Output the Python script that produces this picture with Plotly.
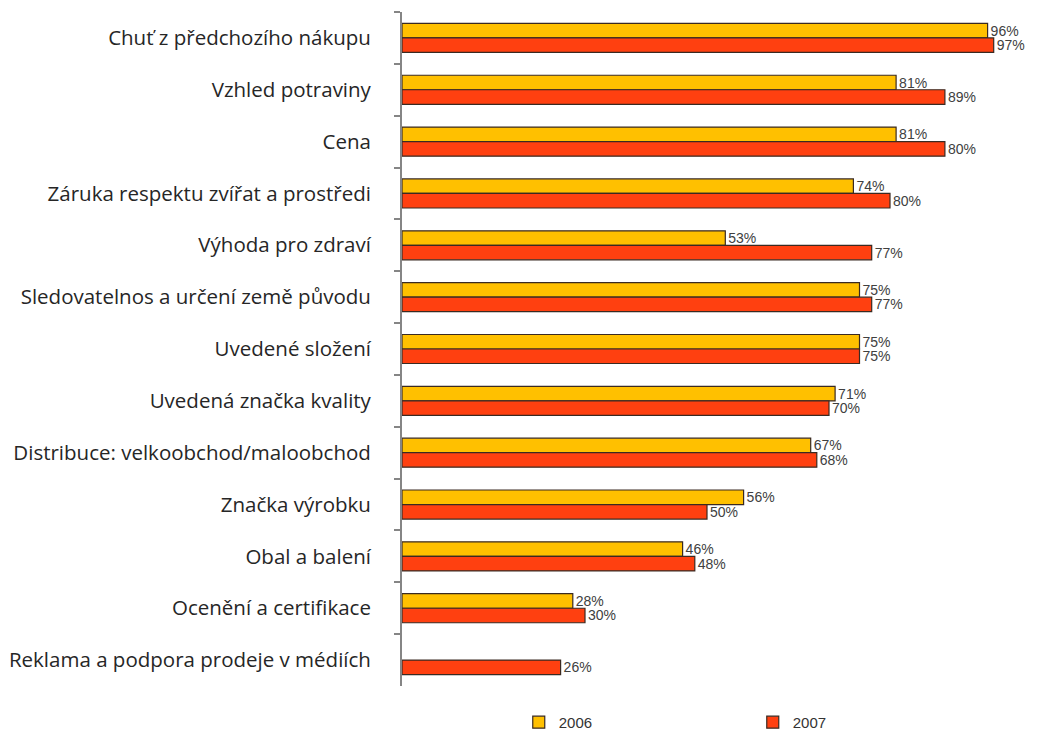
import plotly.graph_objects as go

categories = [
    "Chuť z předchozího nákupu",
    "Vzhled potraviny",
    "Cena",
    "Záruka respektu zvířat a prostředi",
    "Výhoda pro zdraví",
    "Sledovatelnos a určení země původu",
    "Uvedené složení",
    "Uvedená značka kvality",
    "Distribuce: velkoobchod/maloobchod",
    "Značka výrobku",
    "Obal a balení",
    "Ocenění a certifikace",
    "Reklama a podpora prodeje v médiích",
]
values_2006 = [96, 81, 81, 74, 53, 75, 75, 71, 67, 56, 46, 28, None]
values_2007 = [97, 89, 89, 80, 77, 77, 75, 70, 68, 50, 48, 30, 26]
labels_2006 = ["96%", "81%", "81%", "74%", "53%", "75%", "75%", "71%", "67%", "56%", "46%", "28%", ""]
labels_2007 = ["97%", "89%", "80%", "80%", "77%", "77%", "75%", "70%", "68%", "50%", "48%", "30%", "26%"]

line_style = dict(color="#3a2a22", width=1.2)
txt_font = dict(family="Liberation Sans, Arial, sans-serif", size=14, color="#404040")

fig = go.Figure()
fig.add_trace(go.Bar(
    name="2006", y=categories, x=values_2006, orientation="h",
    marker=dict(color="#FFC000", line=line_style),
    text=labels_2006, textposition="outside", textfont=txt_font,
    constraintext="none", cliponaxis=False,
))
fig.add_trace(go.Bar(
    name="2007", y=categories, x=values_2007, orientation="h",
    marker=dict(color="#FF4010", line=line_style),
    text=labels_2007, textposition="outside", textfont=txt_font,
    constraintext="none", cliponaxis=False,
))

fig.update_layout(
    width=1048, height=731,
    margin=dict(l=402, r=36, t=12, b=45, autoexpand=False),
    paper_bgcolor="white", plot_bgcolor="white",
    barmode="group", bargap=0.44, bargroupgap=0,
    showlegend=True,
    legend=dict(
        orientation="h", xref="container", x=0.495, xanchor="left",
        yref="paper", y=-0.054, yanchor="middle",
        font=dict(family="Liberation Sans, Arial, sans-serif", size=15, color="#333333"),
        itemwidth=30, entrywidth=189, entrywidthmode="pixels",
        traceorder="normal",
    ),
)
fig.update_xaxes(range=[0, 100], visible=False, showgrid=False, zeroline=False)
fig.update_yaxes(
    autorange="reversed", showline=True, linecolor="#858585", linewidth=2,
    ticks="outside", ticklen=6, tickcolor="#858585", tickwidth=2,
    tickson="boundaries", showgrid=False, zeroline=False,
    ticklabelstandoff=25,
    tickfont=dict(family="Open Sans, sans-serif", size=20.5, color="#262626"),
)

fig.write_html("out.html")
